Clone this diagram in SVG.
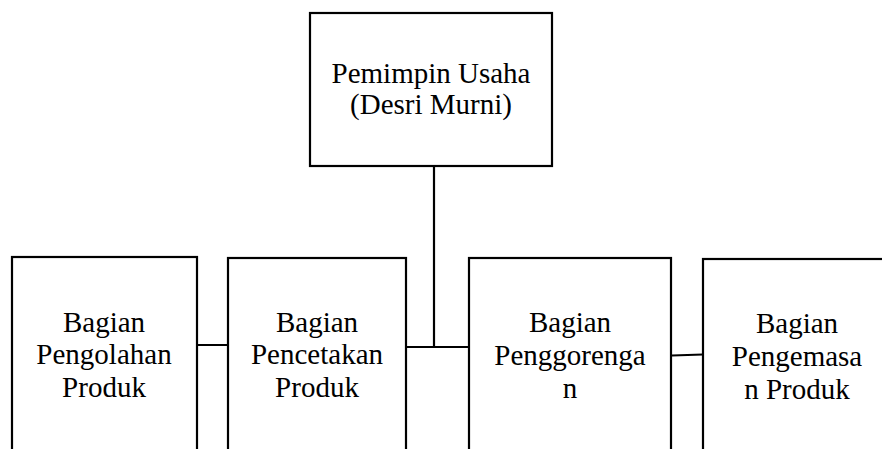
<svg xmlns="http://www.w3.org/2000/svg" width="882" height="449" viewBox="0 0 882 449">
<style>
.box{fill:#fff;stroke:#000;stroke-width:2.2}
.ln{fill:none;stroke:#000;stroke-width:2.2}
.t{font-family:'Liberation Serif','Times New Roman',serif;font-size:29px;fill:#000;text-anchor:middle}
</style>
<rect width="882" height="449" fill="#fff"/>
<g id="connectors">
<line class="ln" x1="434" y1="166" x2="434" y2="347"/>
<line class="ln" x1="393" y1="347" x2="469" y2="347"/>
<line class="ln" x1="193" y1="345" x2="228" y2="345"/>
<line class="ln" x1="672" y1="355.5" x2="703" y2="354.5"/>
</g>
<g id="pemimpin">
<rect class="box" x="310" y="13" width="242" height="153"/>
<text class="t" x="431" y="83">Pemimpin Usaha</text>
<text class="t" x="431" y="114">(Desri Murni)</text>
</g>
<g id="pengolahan">
<rect class="box" x="12" y="257" width="185" height="210"/>
<text class="t" x="104" y="332">Bagian</text>
<text class="t" x="104" y="364">Pengolahan</text>
<text class="t" x="104" y="397">Produk</text>
</g>
<g id="pencetakan">
<rect class="box" x="228" y="258" width="178" height="210"/>
<text class="t" x="317" y="332">Bagian</text>
<text class="t" x="317" y="364">Pencetakan</text>
<text class="t" x="317" y="397">Produk</text>
</g>
<g id="penggorengan">
<rect class="box" x="469" y="258" width="202" height="210"/>
<text class="t" x="570" y="332">Bagian</text>
<text class="t" x="570" y="365">Penggorenga</text>
<text class="t" x="570" y="398">n</text>
</g>
<g id="pengemasan">
<rect class="box" x="703" y="259" width="200" height="210"/>
<text class="t" x="797" y="333">Bagian</text>
<text class="t" x="797" y="366">Pengemasa</text>
<text class="t" x="797" y="399">n Produk</text>
</g>
</svg>
